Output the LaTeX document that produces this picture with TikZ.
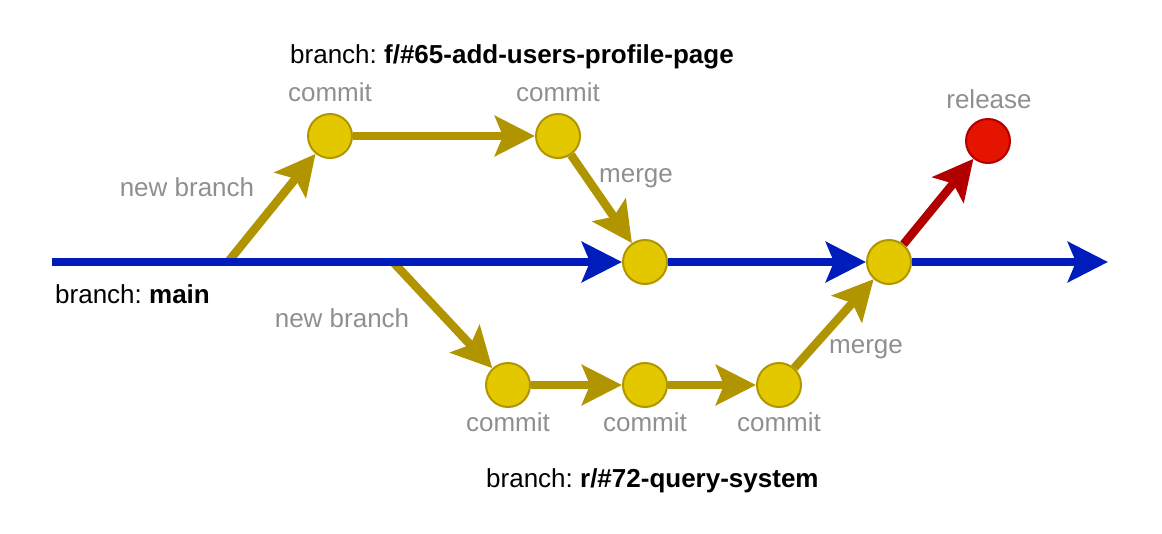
\documentclass[tikz,border=0pt]{standalone}
\usepackage{fontspec}
\setmainfont{Liberation Sans}
\usetikzlibrary{arrows.meta}
\definecolor{mainblue}{HTML}{001DBC}
\definecolor{yfill}{HTML}{E3C800}
\definecolor{ystroke}{HTML}{B09500}
\definecolor{rfill}{HTML}{E51400}
\definecolor{rstroke}{HTML}{B20000}
\definecolor{lblgray}{HTML}{8F8F8F}
\pgfdeclarelayer{bg}
\pgfsetlayers{bg,main}
\frenchspacing
\tikzset{
  commitnode/.style={circle, minimum size=44pt, inner sep=0pt, fill=yfill, draw=ystroke, line width=2pt},
  releasenode/.style={circle, minimum size=44pt, inner sep=0pt, fill=rfill, draw=rstroke, line width=2pt},
  tip/.style={-{Stealth[length=40pt, width=40pt, inset=8pt]}},
  mainline/.style={line width=8.5pt, draw=mainblue},
  featline/.style={line width=8.5pt, draw=ystroke},
  relline/.style={line width=8.5pt, draw=rstroke},
  glabel/.style={text=lblgray, inner sep=0pt, anchor=base, font=\fontsize{26}{31}\selectfont},
  blabel/.style={text=black, inner sep=0pt, anchor=base west, font=\fontsize{26}{31}\selectfont},
}
\begin{document}
\frenchspacing
\begin{tikzpicture}[x=1pt, y=-1pt]
\useasboundingbox (0,0) rectangle (1162,533);
% nodes
\node[commitnode] (c1) at (330,136) {};
\node[commitnode] (c2) at (558,136) {};
\node[commitnode] (m1) at (645,262) {};
\node[commitnode] (m2) at (889,262) {};
\node[releasenode] (rel) at (988,141) {};
\node[commitnode] (d1) at (508,385) {};
\node[commitnode] (d2) at (645,385) {};
\node[commitnode] (d3) at (779,385) {};
\coordinate (start) at (52,262);
\coordinate (b1) at (228,262);
\coordinate (b2) at (393,262);
\coordinate (end) at (1108,262);
% connectors
\begin{pgfonlayer}{bg}
\draw[featline, tip] (b1) -- (c1);
\draw[featline, tip] (c1) -- (c2);
\draw[featline, tip] (c2) -- (m1);
\draw[featline, tip] (b2) -- (d1);
\draw[featline, tip] (d1) -- (d2);
\draw[featline, tip] (d2) -- (d3);
\draw[featline, tip] (d3) -- (m2);
\draw[relline, tip] (m2) -- (rel);
\draw[mainline, tip] (start) -- (m1);
\draw[mainline, tip] (m1) -- (m2);
\draw[mainline, tip] (m2) -- (end);
\end{pgfonlayer}
% labels
\node[blabel] (lf) at (290,63) {branch: \textbf{f/\#65-add-users-profile-page}};
\node[glabel] (lc1) at (330,101) {commit};
\node[glabel] (lc2) at (558,101) {commit};
\node[glabel] (lnb1) at (187,196) {new branch};
\node[glabel] (lm1) at (636,182) {merge};
\node[glabel] (lrel) at (989,108) {release};
\node[blabel] (lmain) at (55,303) {branch: \textbf{main}};
\node[glabel] (lnb2) at (342,327) {new branch};
\node[glabel] (lm2) at (866,353) {merge};
\node[glabel] (ld1) at (508,431) {commit};
\node[glabel] (ld2) at (645,431) {commit};
\node[glabel] (ld3) at (779,431) {commit};
\node[blabel] (lr) at (486,487) {branch: \textbf{r/\#72-query-system}};
\end{tikzpicture}
\end{document}
